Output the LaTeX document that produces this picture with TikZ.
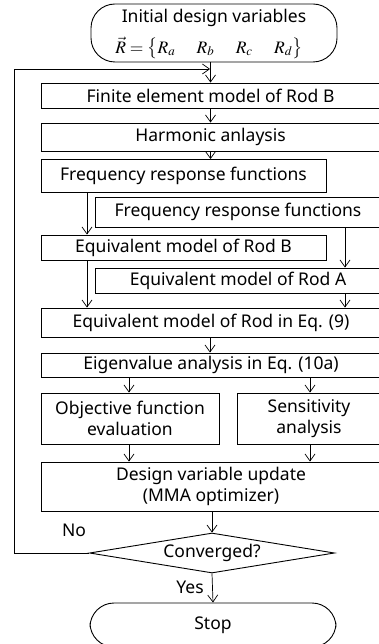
\documentclass[tikz,border=0pt]{standalone}
\usepackage{mathptmx}
\usepackage{fontspec}
\setmainfont{Noto Sans}
\usetikzlibrary{arrows.meta,shapes.geometric}
\begin{document}
\begin{tikzpicture}[x=1pt,y=-1pt,
  txt/.style={font=\fontsize{17.5}{21}\selectfont},
  box/.style={txt,draw,line width=0.9pt,inner sep=0pt,align=center},
  term/.style={txt,draw,line width=0.9pt,rounded corners=24pt,inner sep=0pt,align=center},
  dec/.style={txt,draw,line width=0.9pt,diamond,aspect=6,inner sep=0pt},
  arr/.style={line width=0.7pt,-{Straight Barb[length=7pt,width=10pt]}},
  lbl/.style={txt,inner sep=0pt}]
\useasboundingbox (0,0) rectangle (378,644);
\node[term,minimum width=246pt,minimum height=58pt] (start) at (214,33) {};
\node[lbl] (startA) at (214,18) {Initial design variables};
\node[lbl] (startB) at (209,48) {$\vec{R}=\bigl\{R_a\quad\; R_b\quad\; R_c\quad\; R_d\bigr\}$};
\node[box,minimum width=339pt,minimum height=25pt] (fe) at (210.5,95.5) {Finite element model of Rod B};
\node[box,minimum width=339pt,minimum height=28pt] (harm) at (210.5,137) {Harmonic anlaysis};
\node[box,minimum width=285pt,minimum height=33pt] (frf1) at (183.5,176) {Frequency response functions};
\node[box,minimum width=286pt,minimum height=30pt] (frf2) at (238,212) {Frequency response functions};
\node[box,minimum width=285pt,minimum height=25pt] (eqb) at (183.5,247.5) {Equivalent model of Rod B};
\node[box,minimum width=286pt,minimum height=25pt] (eqa) at (238,280.5) {Equivalent model of Rod A};
\node[box,minimum width=340pt,minimum height=29pt] (eq9) at (211,322.5) {Equivalent model of Rod in Eq. (9)};
\node[box,minimum width=340pt,minimum height=24pt] (eig) at (211,365) {Eigenvalue analysis in Eq. (10a)};
\node[box,minimum width=178pt,minimum height=51pt] (obj) at (130,418.5) {Objective function\\evaluation};
\node[box,minimum width=144pt,minimum height=51pt] (sens) at (309,418.5) {Sensitivity\\analysis};
\node[box,minimum width=340pt,minimum height=49pt] (des) at (211,486.5) {Design variable update\\(MMA optimizer)};
\node[dec,minimum width=245pt,minimum height=40pt] (conv) at (212,553) {Converged?};
\node[term,minimum width=246pt,minimum height=44pt] (stop) at (213,625) {Stop};
\node[lbl] (no) at (74,530) {No};
\node[lbl] (yes) at (190,587) {Yes};
\coordinate (c1) at (14,553);
\coordinate (c2) at (14,69);
\coordinate (c3) at (210,69);
\draw[line width=0.7pt] (conv.west) -- (c1) -- (c2);
\draw[arr] (c2) -- (c3);
\draw[arr] (start.south -| fe.north) -- (fe.north);
\draw[arr] (fe.south) -- (harm.north);
\draw[arr] (harm.south) -- (harm.south |- frf1.north);
\draw[arr] (frf1.south -| 87,0) -- (eqb.north -| 87,0);
\draw[arr] (frf2.south -| 345,0) -- (eqa.north -| 345,0);
\draw[arr] (eqb.south -| 87,0) -- (eq9.north -| 87,0);
\draw[arr] (eqa.south -| 345,0) -- (eq9.north -| 345,0);
\draw[arr] (eq9.south -| 210,0) -- (eig.north -| 210,0);
\draw[arr] (eig.south -| 129,0) -- (obj.north -| 129,0);
\draw[arr] (eig.south -| 310,0) -- (sens.north -| 310,0);
\draw[arr] (obj.south -| 129,0) -- (des.north -| 129,0);
\draw[arr] (sens.south -| 310,0) -- (des.north -| 310,0);
\draw[arr] (des.south -| conv.north) -- (conv.north);
\draw[arr] (conv.south) -- (stop.north);
\end{tikzpicture}
\end{document}
